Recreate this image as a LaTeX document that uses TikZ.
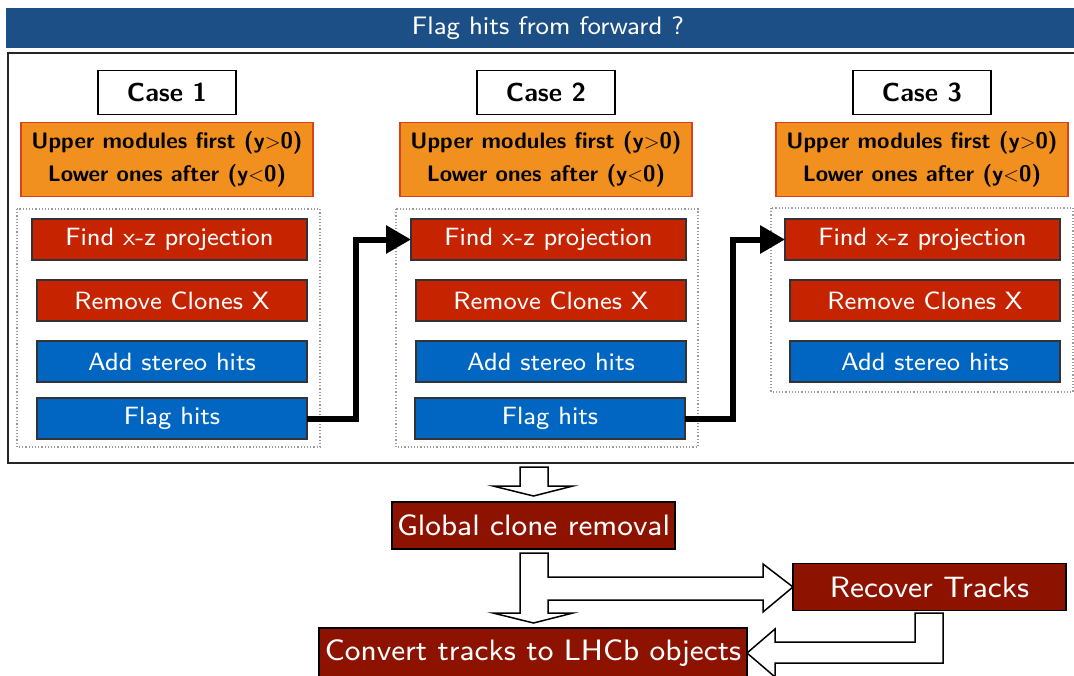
\documentclass[tikz,border=0pt]{standalone}
\usepackage{fontspec}
\setsansfont{lmsans8-regular}[Extension=.otf, BoldFont=lmsans10-bold]
\usetikzlibrary{arrows.meta}
\definecolor{titleblue}{HTML}{1B4F85}
\definecolor{orangefill}{HTML}{F1901E}
\definecolor{orangeedge}{HTML}{D8421A}
\definecolor{stepred}{HTML}{C62400}
\definecolor{stepblue}{HTML}{0066C2}
\definecolor{darkred}{HTML}{8E1200}
\definecolor{boxedge}{HTML}{333333}
\tikzset{
  x=1pt, y=-1pt,
  every node/.style={font=\sffamily, inner sep=0pt, outer sep=0pt},
  casebox/.style={draw=black, line width=1.6pt, fill=white, minimum width=138pt, minimum height=44pt, font=\sffamily\bfseries\fontsize{26}{29}\selectfont},
  orangebox/.style={draw=orangeedge, line width=1.5pt, fill=orangefill, minimum width=292pt, minimum height=74pt, align=center, font=\sffamily\bfseries\fontsize{22.5}{33}\selectfont},
  dotbox/.style={draw=gray!80, line width=1.2pt, dotted},
  stepbox/.style={draw=boxedge, line width=1.2pt, text=white, minimum height=41pt, font=\sffamily\fontsize{25}{28}\selectfont},
  redstep/.style={stepbox, fill=stepred},
  bluestep/.style={stepbox, fill=stepblue},
  bigbox/.style={draw=black, line width=1.4pt, fill=darkred, text=white, minimum height=47pt, font=\sffamily\fontsize{29.5}{34}\selectfont},
  conn/.style={line width=6pt, line join=miter, -{Triangle[length=25pt,width=27pt]}},
  blockarrow/.style={draw=black, line width=1.5pt, fill=white, line join=miter}
}
\begin{document}
\begin{tikzpicture}
\useasboundingbox (0,0) rectangle (1074,675);
\clip (0,0) rectangle (1074,675);
% title bar
\fill[titleblue] (6,8) rectangle (1090,48);
\node[text=white, font=\sffamily\fontsize{25.3}{28}\selectfont] (title) at (548,28) {Flag hits from forward ?};
% outer box
\draw[line width=2pt, draw=black!85] (8,53) rectangle (1090,463);
% cases
\foreach \i/\cx in {1/167, 2/546, 3/922} {
  \node[casebox] (case\i) at (\cx,92.5) {Case \i};
  \node[orangebox] (or\i) at (\cx,159.5) {Upper modules first (y$>$0)\\Lower ones after (y$<$0)};
}
% dotted boxes
\draw[dotbox] (17,209) rectangle (320,447);
\draw[dotbox] (396,209) rectangle (698,447);
\draw[dotbox] (771,208) rectangle (1073,392);
% steps
\foreach \i/\l in {1/32, 2/411, 3/785} {
  \node[redstep, minimum width=275pt, anchor=west] (x\i) at (\l,239.5) {Find x-z projection};
  \node[redstep, minimum width=270pt, anchor=west] (r\i) at (\l+5,300.5) {Remove Clones X};
  \node[bluestep, minimum width=270pt, anchor=west] (s\i) at (\l+5,361.5) {Add stereo hits};
}
\node[bluestep, minimum width=270pt, anchor=west] (f1) at (37,418.5) {Flag hits};
\node[bluestep, minimum width=270pt, anchor=west] (f2) at (415,418.5) {Flag hits};
% connectors
\draw[conn] (f1.east) -- ++(49,0) |- (x2.west);
\draw[conn] (f2.east) -- ++(48,0) |- (x3.west);
% bottom boxes
\node[bigbox, minimum width=283pt] (gcr) at (533.5,525.5) {Global clone removal};
\node[bigbox, minimum width=273pt] (rec) at (929.5,587) {Recover Tracks};
\node[bigbox, minimum width=428pt, minimum height=50pt] (conv) at (533,653) {Convert tracks to LHCb objects};
% block arrows
\draw[blockarrow] (520,467) -- (548,467) -- (548,486) -- (573,486) -- (533.5,496) -- (493,486) -- (520,486) -- cycle;
\draw[blockarrow] (520,553) -- (548,553) -- (548,577) -- (763,577) -- (763,564) -- (rec.west) -- (763,612) -- (763,600) -- (548,600) -- (548,613) -- (573,613) -- (533.5,623) -- (493,613) -- (520,613) -- cycle;
\draw[blockarrow] (915,613) -- (943,613) -- (943,663) -- (775,663) -- (775,677) -- (conv.east) -- (775,629) -- (775,642) -- (915,642) -- cycle;
\end{tikzpicture}
\end{document}
